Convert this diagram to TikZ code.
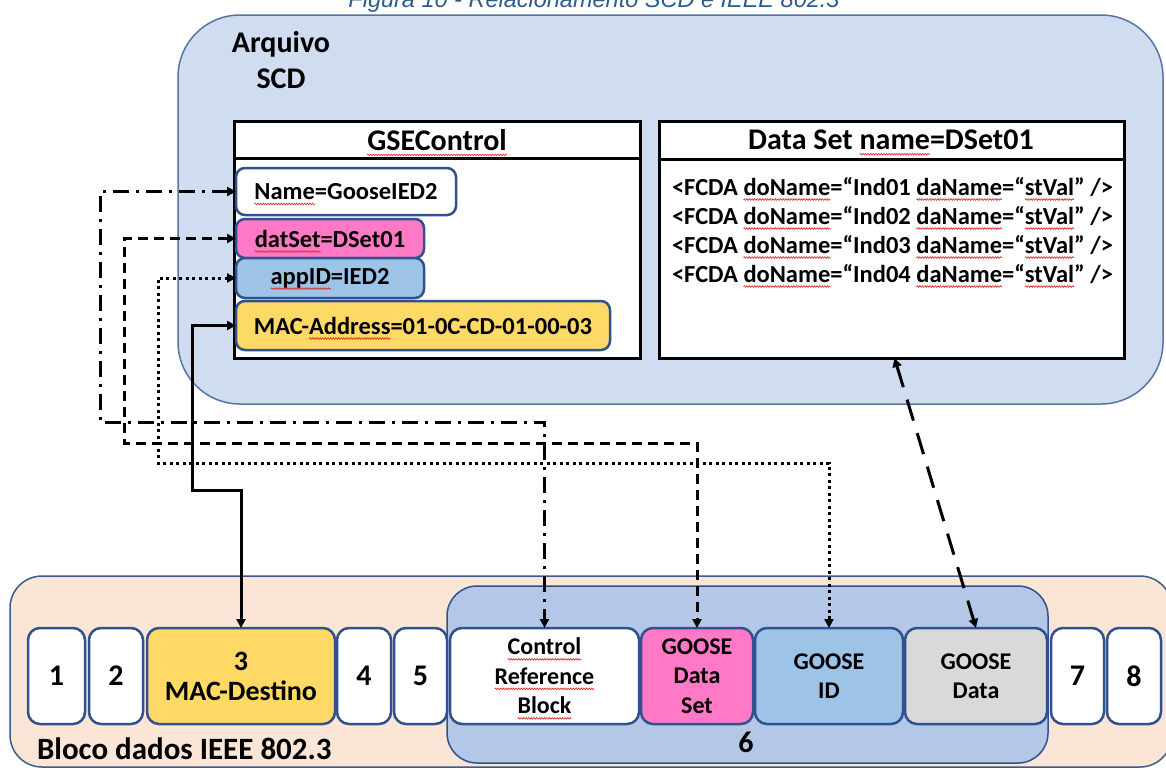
\documentclass[tikz,border=0pt]{standalone}
\usepackage{fontspec}
\setmainfont{Carlito}
\newfontfamily\capfont{Liberation Sans}
\usetikzlibrary{arrows.meta,decorations.pathmorphing}

\definecolor{scdfill}{HTML}{D0DCEF}
\definecolor{scdline}{HTML}{5574A8}
\definecolor{peach}{HTML}{FBE5D6}
\definecolor{framebl}{HTML}{3D5A8A}
\definecolor{innerbl}{HTML}{B4C7E7}
\definecolor{cellline}{HTML}{2F528F}
\definecolor{yel}{HTML}{FFD966}
\definecolor{pnk}{HTML}{FF79C6}
\definecolor{ltblue}{HTML}{9DC3E6}
\definecolor{lgrey}{HTML}{D9D9D9}
\definecolor{capblue}{HTML}{2E5C8A}
\definecolor{squig}{HTML}{E03030}

% red spell-check style wavy underline under a word
\newsavebox\sqbox
\newcommand\sq[1]{\sbox\sqbox{#1}\rlap{\usebox\sqbox}\tikz[baseline=0pt]{%
  \useasboundingbox (0pt,0pt) rectangle (\wd\sqbox,0pt);
  \draw[overlay, squig, line width=0.7pt, solid, sharp corners, fill=none, decorate,
        decoration={snake, amplitude=0.8pt, segment length=2.6pt}]
        (0pt,-4.5pt) -- (\wd\sqbox,-4.5pt);}}

\begin{document}
\begin{tikzpicture}[x=1pt,y=-1pt,
  every node/.style={inner sep=0pt, outer sep=0pt},
  txt/.style={font=\bfseries\fontsize{24}{29.5}\selectfont, align=center},
  big/.style={font=\bfseries\fontsize{30}{36}\selectfont, align=center},
  frame/.style={draw=black, line width=3pt, fill=white, anchor=north west},
  field/.style={draw=cellline, line width=2.5pt, rounded corners=9pt, anchor=north west,
                font=\bfseries\fontsize{24.5}{29.5}\selectfont, align=center},
  cell/.style={draw=cellline, line width=2.5pt, rounded corners=12pt, anchor=north west, minimum height=96pt},
  link/.style={line width=3pt, {Triangle[length=9pt,width=9pt]}-{Triangle[length=9pt,width=9pt]}},
  fcda/.style={font=\bfseries\fontsize{24.5}{28}\selectfont, anchor=base west}]
\clip (0,0) rectangle (1166,769);

% caption
\node[font=\capfont\itshape\fontsize{23.5}{28}\selectfont, text=capblue, anchor=base] (title) at (594,7) {Figura 10 - Relacionamento SCD e IEEE 802.3};

% SCD file
\node[draw=scdline, line width=1.5pt, fill=scdfill, rounded corners=62pt, anchor=north west,
      minimum width=985pt, minimum height=389pt] (scd) at (178,15) {};
\node[big, anchor=base] (arq) at (281,52) {Arquivo};
\node[big, anchor=base] (scdt) at (281,88) {SCD};

% GSEControl
\node[frame, minimum width=406pt, minimum height=237pt] (gse) at (234,121) {};
\draw[line width=3pt] (gse.north west) ++(0,37) -- ++(406,0);
\node[big] (gsehdr) at (437,140) {\sq{GSEControl}};
\node[field, fill=white, minimum width=220pt, minimum height=47pt] (fname) at (236,168) {\sq{Name}=GooseIED2};
\node[field, fill=pnk, minimum width=188pt, minimum height=39pt] (fdset) at (236,219) {\sq{datSet}=DSet01};
\node[field, fill=ltblue, minimum width=188pt, minimum height=40pt] (fapp) at (236,258) {\sq{appID}=IED2};
\node[field, fill=yel, minimum width=374pt, minimum height=49pt] (fmac) at (236,301) {MAC-\sq{Address}=01-0C-CD-01-00-03};

% Data Set
\node[frame, minimum width=465pt, minimum height=237pt] (dsbox) at (659,121) {};
\draw[line width=3pt] (dsbox.north west) ++(0,38) -- ++(465,0);
\node[big] (dshdr) at (891,140) {Data Set \sq{name}=DSet01};
\node[fcda] (r1) at (672,195) {<FCDA \sq{doName}=“Ind01 \sq{daName}=“\sq{stVal}” />};
\node[fcda] (r2) at (672,224) {<FCDA \sq{doName}=“Ind02 \sq{daName}=“\sq{stVal}” />};
\node[fcda] (r3) at (672,253) {<FCDA \sq{doName}=“Ind03 \sq{daName}=“\sq{stVal}” />};
\node[fcda] (r4) at (672,282) {<FCDA \sq{doName}=“Ind04 \sq{daName}=“\sq{stVal}” />};

% IEEE 802.3 frame
\node[draw=framebl, line width=1.5pt, fill=peach, rounded corners=32pt, anchor=north west,
      minimum width=1162pt, minimum height=191pt] (eth) at (10,576) {};
\node[draw=cellline, line width=1.5pt, fill=innerbl, rounded corners=30pt, anchor=north west,
      minimum width=601pt, minimum height=177pt] (apdu) at (447,586) {};
\node[big] (six) at (746,742) {6};
\node[font=\bfseries\fontsize{31}{36}\selectfont, anchor=base west] (bloco) at (37,759) {Bloco dados IEEE 802.3};

\node[cell, fill=white, minimum width=57pt, big] (c1) at (28,628) {1};
\node[cell, fill=white, minimum width=54pt, big] (c2) at (89,628) {2};
\node[cell, fill=yel, minimum width=188pt, font=\bfseries\fontsize{28}{30}\selectfont, align=center] (c3) at (147,628) {3\\MAC-Destino};
\node[cell, fill=white, minimum width=54pt, big] (c4) at (337,628) {4};
\node[cell, fill=white, minimum width=53pt, big] (c5) at (394,628) {5};
\node[cell, fill=white, minimum width=189pt, txt] (crb) at (450,628) {\sq{Control}\\\sq{Reference}\\\sq{Block}};
\node[cell, fill=pnk, minimum width=112pt, txt] (gds) at (641,628) {GOOSE\\Data\\Set};
\node[cell, fill=ltblue, minimum width=148pt, txt] (gid) at (755,628) {GOOSE\\ID};
\node[cell, fill=lgrey, minimum width=142pt, txt] (gdat) at (905,628) {GOOSE\\Data};
\node[cell, fill=white, minimum width=53pt, big] (c7) at (1051,628) {7};
\node[cell, fill=white, minimum width=54pt, big] (c8) at (1107,628) {8};

% connectors
\coordinate (ddA) at (100,422);
\coordinate (dsA) at (124,443);
\coordinate (dtA) at (158,463);
\coordinate (soA) at (192,490);
\draw[link, dash pattern=on 16pt off 7pt on 3pt off 7pt] (fname.west) -| (ddA) -| (crb.north);
\draw[link, dash pattern=on 10pt off 6pt] (fdset.west) -| (dsA) -| (gds.north);
\draw[link, dash pattern=on 3pt off 3.5pt] (fapp.west) -| (dtA) -| (gid.north);
\draw[link] (fmac.west) -| (soA) -| (c3.north);
\draw[link, dash pattern=on 22pt off 13pt] ([xshift=3pt]dsbox.south) -- (gdat.north);
\end{tikzpicture}
\end{document}
